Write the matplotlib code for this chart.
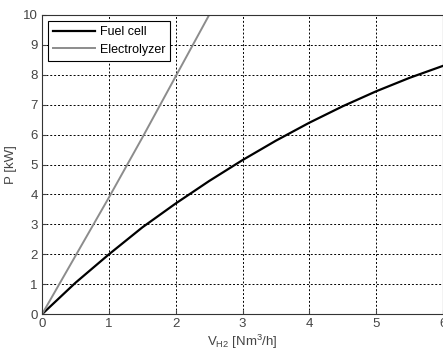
import numpy as np
import matplotlib.pyplot as plt

plt.rcParams['font.family'] = ['Liberation Sans', 'DejaVu Sans']

# Fuel cell: power vs hydrogen flow
fc_v = [0, 0.5, 1, 1.5, 2, 2.5, 3, 3.5, 4, 4.5, 5, 5.5, 6]
fc_p = [0, 1.05, 2.0, 2.9, 3.7, 4.45, 5.15, 5.8, 6.4, 6.95, 7.45, 7.9, 8.3]

# Electrolyzer
el_v = [0, 0.5, 1, 1.5, 2, 2.5]
el_p = [0, 1.95, 3.9, 5.9, 7.95, 10.0]

xticks = [0, 1, 2, 3, 4, 5, 6]
yticks = list(range(0, 11))

fig = plt.figure(figsize=(4.43, 3.57), dpi=100)
ax = fig.add_axes([0.095, 0.12, 0.905, 0.838])

ax.plot(fc_v, fc_p, color='black', lw=1.6, label='Fuel cell')
ax.plot(el_v, el_p, color='#8c8c8c', lw=1.4, label='Electrolyzer')

ax.set_xlim(0, 6)
ax.set_ylim(0, 10)
ax.set_xticks(xticks)
ax.set_yticks(yticks)
ax.grid(True, color='black', linestyle=(0, (2, 2)), linewidth=0.7)
ax.tick_params(direction='in', labelsize=9.5, colors='#444444', length=3, pad=3)
for s in ax.spines.values():
    s.set_color('#333333')

ax.set_xlabel(r'V$_{\mathregular{H2}}$ [Nm$^{\mathregular{3}}$/h]', fontsize=9.5,
              color='#444444', labelpad=2)
ax.set_ylabel('P [kW]', fontsize=9.5, color='#444444', labelpad=4)

leg = ax.legend(loc='upper left', fontsize=9, fancybox=False, framealpha=1,
                edgecolor='black', handlelength=3.3, handletextpad=0.4,
                borderaxespad=0.5, labelspacing=0.45, borderpad=0.4)
leg.get_frame().set_linewidth(0.8)

fig.savefig('out.png', dpi=100)
